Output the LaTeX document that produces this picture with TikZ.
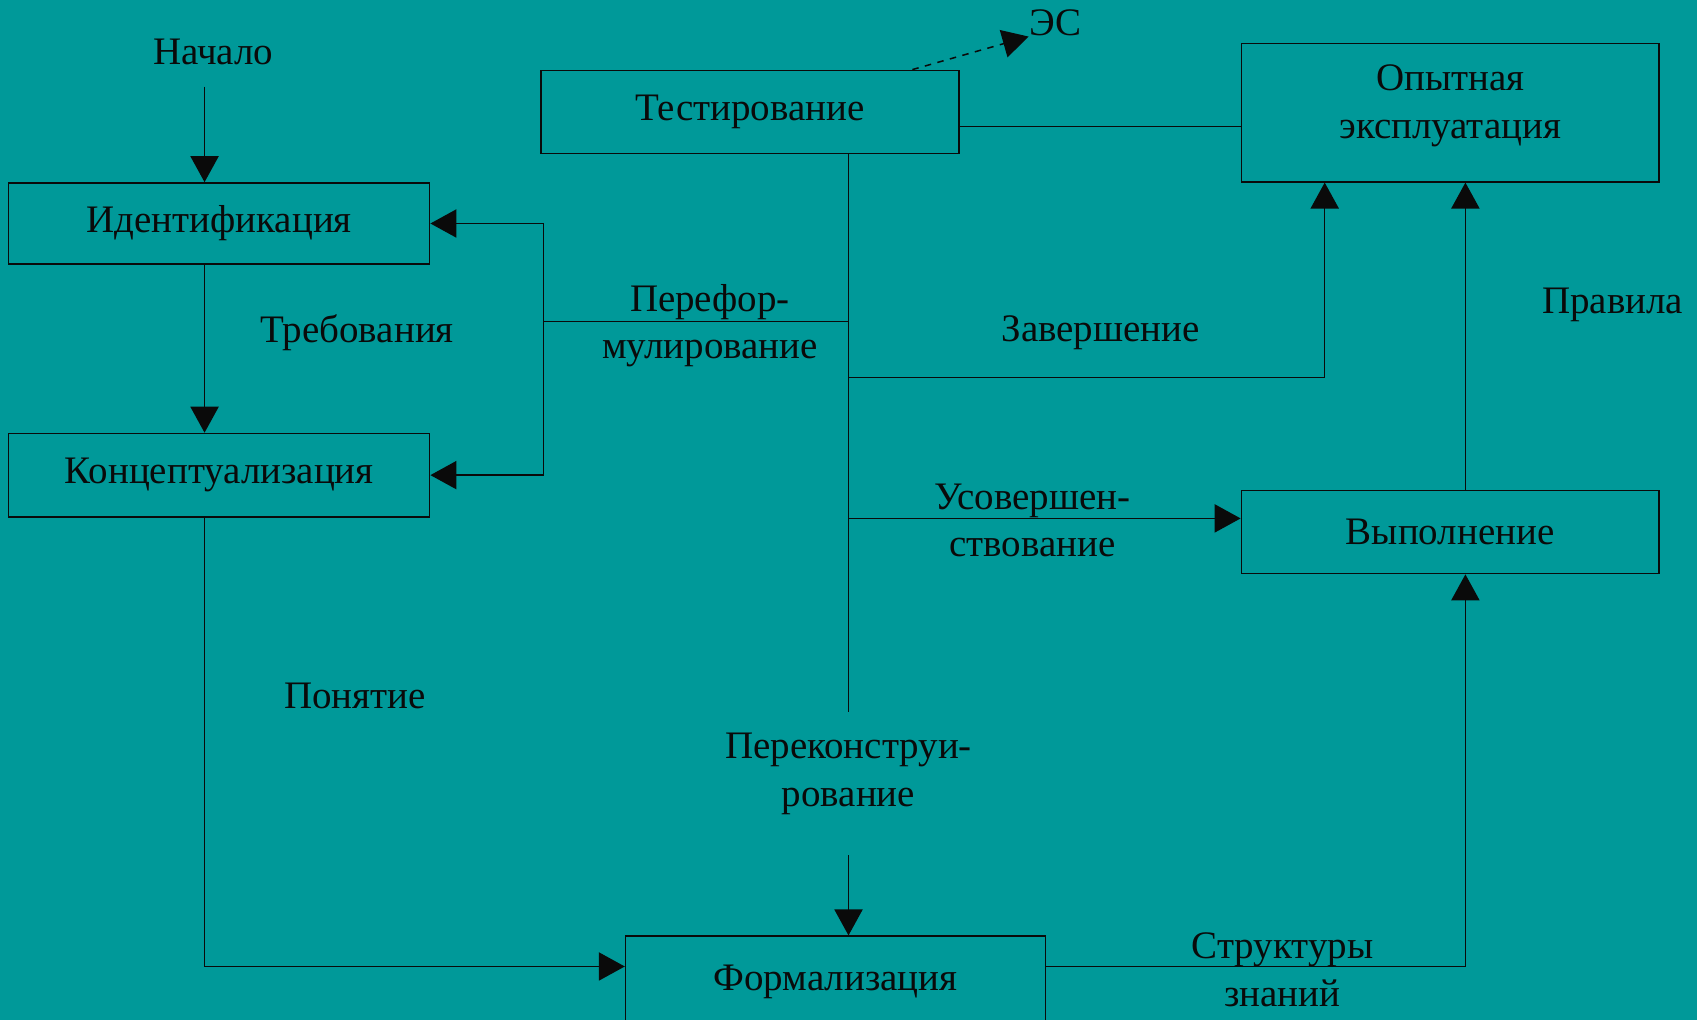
\documentclass[tikz,border=0pt]{standalone}
\usepackage{fontspec}
\setmainfont{Liberation Serif}
\usepackage{xcolor}
\usetikzlibrary{calc,positioning,arrows.meta}
\definecolor{color_background_teal}{HTML}{009999}
\definecolor{color_ink}{HTML}{0a0a0a}

\begin{document}
\begin{tikzpicture}[x=0.5pt,y=-0.5pt,color_ink,line width=0.7pt,
	every node/.style={font=\fontsize{18}{22}\selectfont,align=center,inner sep=0pt},
	stagebox/.style={draw,rectangle,minimum width=193pt,minimum height=38.5pt},
	arr/.style={-{Triangle[length=12pt,width=13pt]}}]
				% Background
				\fill[color_background_teal] (0, 0) rectangle (1568, 942);
				\clip (0, 0) rectangle (1568, 942);
				\useasboundingbox (0, 0) rectangle (1568, 942);

				% Points
				\coordinate (colA) at (189, 0);
				\coordinate (colL) at (502, 0);
				\coordinate (colM) at (784, 0);
				\coordinate (colZ) at (1224, 0);
				\coordinate (colR) at (1354, 0);
				\coordinate (rowT) at (0, 117);
				\coordinate (rowP) at (0, 297);
				\coordinate (rowZ) at (0, 349);
				\coordinate (rowU) at (0, 479);
				\coordinate (rowF) at (0, 893);
				\coordinate (startN) at (189, 80);
				\coordinate (trunkEnd) at (784, 658);
				\coordinate (startK) at (784, 790);

				% Stages
				\node[stagebox] (test) at (693, 103.5) {Тестирование};
				\node[stagebox,minimum height=64pt] (opyt) at (1340, 104) {};
				\node (opytTxt) at (1340, 98) {Опытная\\эксплуатация};
				\node[stagebox,minimum width=194.5pt,minimum height=37.5pt] (ident) at (202.5, 206.5) {Идентификация};
				\node[stagebox,minimum width=194.5pt] (konc) at (202.5, 439) {Концептуализация};
				\node[stagebox] (vyp) at (1340, 491.5) {Выполнение};
				\node[stagebox,minimum width=194pt,minimum height=42pt] (form) at (772, 907) {Формализация};

				% Labels
				\node (nachalo) at (197, 48) {Начало};
				\node (es) at (975, 21) {ЭС};
				\node (perefor) at (656, 301) {Перефор-\\мулирование};
				\node (treb) at (330, 307) {Требования};
				\node (zaversh) at (1017, 307) {Завершение};
				\node (pravila) at (1490, 282) {Правила};
				\node (usover) at (954, 481) {Усовершен-\\ствование};
				\node (ponyatie) at (328, 643) {Понятие};
				\node (perekon) at (784, 715) {Переконструи-\\рование};
				\node (struct) at (1185, 896) {Структуры\\знаний};

				% Left column
				\draw[arr] (startN) -- (startN |- ident.north);
				\draw[arr] (ident.south -| colA) -- (konc.north -| colA);
				\draw[arr] (konc.south -| colA) |- (form.west |- rowF);

				% Testing trunk
				\draw (test.east |- rowT) -- (opyt.west |- rowT);
				\draw[dashed,arr] (test.north -| 843, 0) -- (es.south west);
				\draw (test.south -| colM) -- (trunkEnd);
				\draw (colM |- rowP) -- (colL |- rowP);
				\draw[arr] (colL |- rowP) |- (ident.east);
				\draw[arr] (colL |- rowP) |- (konc.east);
				\draw[arr] (colM |- rowZ) -| (opyt.south -| colZ);
				\draw[arr] (colM |- rowU) -- (vyp.west |- rowU);
				\draw[arr] (startK) -- (startK |- form.north);

				% Right column
				\draw[arr] (form.east |- rowF) -| (vyp.south -| colR);
				\draw[arr] (vyp.north -| colR) -- (opyt.south -| colR);
\end{tikzpicture}
\end{document}
